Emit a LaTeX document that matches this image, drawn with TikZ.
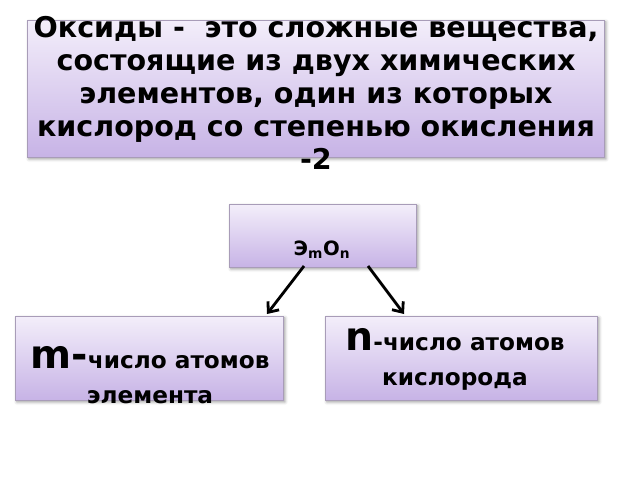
\documentclass[tikz,border=0pt]{standalone}
\usepackage{fontspec}
\setmainfont{DejaVu Sans}
\usetikzlibrary{positioning,shadows.blur,arrows.meta}
\definecolor{boxtop}{HTML}{F3EEFA}
\definecolor{boxbot}{HTML}{C7B3E6}
\definecolor{boxline}{HTML}{A89CB8}
\tikzset{
  box/.style={draw=boxline,top color=boxtop,bottom color=boxbot,
    blur shadow={shadow xshift=1.2pt,shadow yshift=-1.2pt,shadow blur steps=5},
    inner sep=0pt,anchor=north west},
  txt/.style={font=\bfseries,align=center,inner sep=0pt},
  arr/.style={line width=2pt,-{Straight Barb[length=6pt,width=10pt]}}
}
\begin{document}
\begin{tikzpicture}[x=0.025cm,y=-0.025cm]
  \useasboundingbox (0,0) rectangle (640,480);
  % Definition
  \node[box,minimum width=577*0.025cm,minimum height=137*0.025cm] (def) at (27,20) {};
  \node[txt,font=\fontsize{20.3}{23.4}\selectfont\bfseries] (deftxt) at (316,93)
    {Оксиды -\ \ это сложные вещества,\\состоящие из двух химических\\элементов, один из которых\\кислород со степенью окисления\\-2};
  % Formula
  \node[box,minimum width=187*0.025cm,minimum height=63*0.025cm] (form) at (229,204) {};
  \node[txt,font=\fontsize{14}{16}\selectfont\bfseries] (formtxt) at (322,250) {Э\textsubscript{m}O\textsubscript{n}};
  % Indices
  \node[box,minimum width=268*0.025cm,minimum height=84*0.025cm] (mbox) at (15,316) {};
  \node[txt,font=\fontsize{16.5}{25}\selectfont\bfseries] (mtxt) at (150,375)
    {{\fontsize{28}{28}\selectfont m-}число атомов\\элемента};
  \node[box,minimum width=272*0.025cm,minimum height=84*0.025cm] (nbox) at (325,316) {};
  \node[txt,font=\fontsize{16.5}{25}\selectfont\bfseries] (ntxt) at (455,359)
    {{\fontsize{28}{28}\selectfont n}-число атомов\\кислорода};
  % Arrows
  \coordinate (a1) at (304,266); \coordinate (b1) at (267,314);
  \coordinate (a2) at (368,266); \coordinate (b2) at (404,314);
  \draw[arr] (a1) -- (b1);
  \draw[arr] (a2) -- (b2);
\end{tikzpicture}
\end{document}
